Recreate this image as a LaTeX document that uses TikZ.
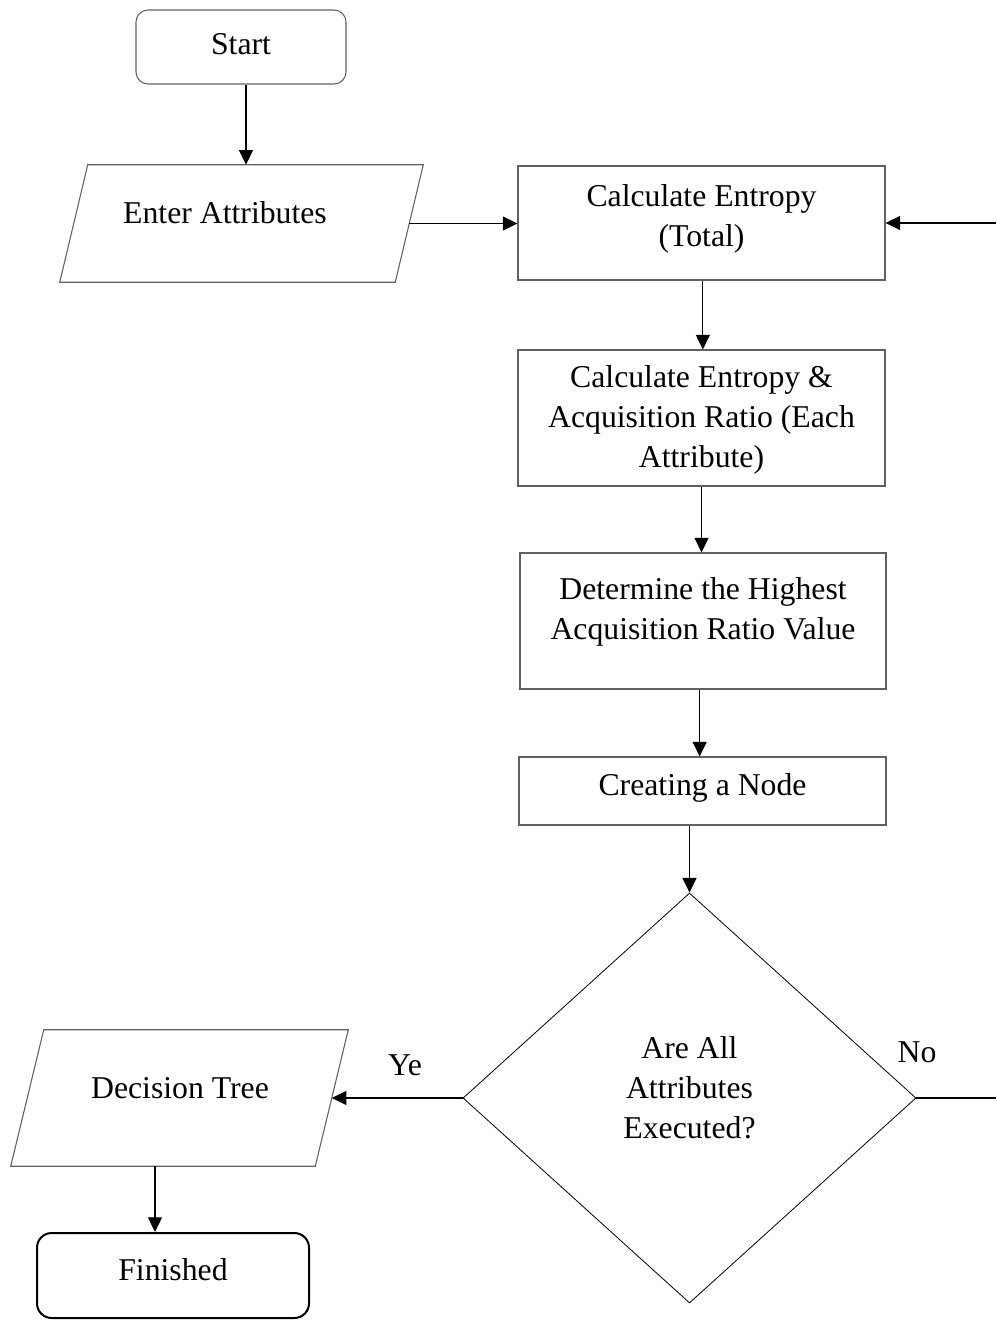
\documentclass[tikz,border=0pt]{standalone}
\usepackage{fontspec}
\setmainfont{Liberation Serif}
\usetikzlibrary{shapes.geometric,arrows.meta}
\definecolor{edgegray}{rgb}{0.38,0.38,0.38}
\begin{document}
\begin{tikzpicture}[x=0.75pt,y=-0.75pt,
  every node/.style={font=\fontsize{23.8}{30}\selectfont},
  boxnode/.style={draw=edgegray,line width=0.8pt,rectangle,inner sep=0pt},
  txt/.style={align=center,inner sep=0pt},
  holder/.style={rectangle,draw=none,inner sep=0pt},
  paraline/.style={draw=edgegray,line width=0.8pt,line join=miter},
  arr/.style={draw=black,line width=0.9pt,-{Triangle[length=11pt,width=10.5pt]}},
  ln/.style={draw=black,line width=0.9pt}]
\useasboundingbox (0,0) rectangle (996,1320);
% Start
\node[boxnode,rounded corners=9pt,minimum width=157.5pt,minimum height=55.5pt] (start) at (241,47) {};
\node[txt] (tstart) at (241,44) {Start};
% Enter Attributes (parallelogram)
\node[holder,minimum width=272.25pt,minimum height=87.75pt] (enter) at (241.5,223.5) {};
\draw[paraline] ([xshift=21pt]enter.north west) -- (enter.north east)
   -- ([xshift=-21pt]enter.south east) -- (enter.south west) -- cycle;
\coordinate (enterE) at ([xshift=-10.5pt]enter.east);
\node[txt] (tenter) at (225,213) {Enter Attributes};
% Boxes
\node[boxnode,minimum width=275.25pt,minimum height=85.5pt] (b1) at (701.5,223) {};
\node[txt] (tb1) at (701.5,218.5) {Calculate Entropy\\(Total)};
\node[boxnode,minimum width=275.25pt,minimum height=102pt] (b2) at (701.5,418) {};
\node[txt] (tb2) at (701.5,420) {Calculate Entropy \&\\Acquisition Ratio (Each\\Attribute)};
\node[boxnode,minimum width=274.5pt,minimum height=102pt] (b3) at (703,621) {};
\node[txt] (tb3) at (703,612) {Determine the Highest\\Acquisition Ratio Value};
\node[boxnode,minimum width=275.25pt,minimum height=51pt] (b4) at (702.5,791) {};
\node[txt] (tb4) at (702.5,788) {Creating a Node};
% Diamond
\node[draw=black,line width=0.6pt,diamond,inner sep=0pt,minimum width=339.75pt,minimum height=307.5pt] (dec) at (689.5,1098) {};
\node[txt] (tdec) at (689.5,1088) {Are All\\Attributes\\Executed?};
% Decision Tree (parallelogram)
\node[holder,minimum width=252.75pt,minimum height=102pt] (dt) at (179.5,1098) {};
\draw[paraline] ([xshift=24.75pt]dt.north west) -- (dt.north east)
   -- ([xshift=-24.75pt]dt.south east) -- (dt.south west) -- cycle;
\coordinate (dtE) at ([xshift=-12.375pt]dt.east);
\node[txt] (tdt) at (180,1088) {Decision Tree};
% Finished
\node[draw=black,line width=1.5pt,rounded corners=11pt,rectangle,minimum width=204pt,minimum height=63.75pt] (fin) at (173,1275.5) {};
\node[txt] (tfin) at (173,1270) {Finished};
% labels
\node[txt] (ye) at (405,1065) {Ye};
\node[txt] (no) at (917,1052) {No};
% coordinates at the right edge
\coordinate (tr) at (996,223);
\coordinate (nr) at (996,1098);
% connectors
\draw[arr] ([xshift=3.75pt]start.south) -- ([xshift=3.75pt]start.south |- enter.north);
\draw[arr] (enterE) -- (enterE -| b1.west);
\draw[arr] (tr) -- (tr -| b1.east);
\draw[arr] ([xshift=1pt]b1.south) -- ([xshift=1pt]b1.south |- b2.north);
\draw[arr] (b2.south) -- (b2.south |- b3.north);
\draw[arr] ([xshift=-2.5pt]b3.south) -- ([xshift=-2.5pt]b3.south |- b4.north);
\draw[arr] (dec.north |- b4.south) -- (dec.north);
\draw[ln] (dec.east) -- (nr);
\draw[arr] (dec.west) -- (dtE);
\draw[arr] ([xshift=-13.5pt]fin.north |- dt.south) -- ([xshift=-13.5pt]fin.north);
\end{tikzpicture}
\end{document}
